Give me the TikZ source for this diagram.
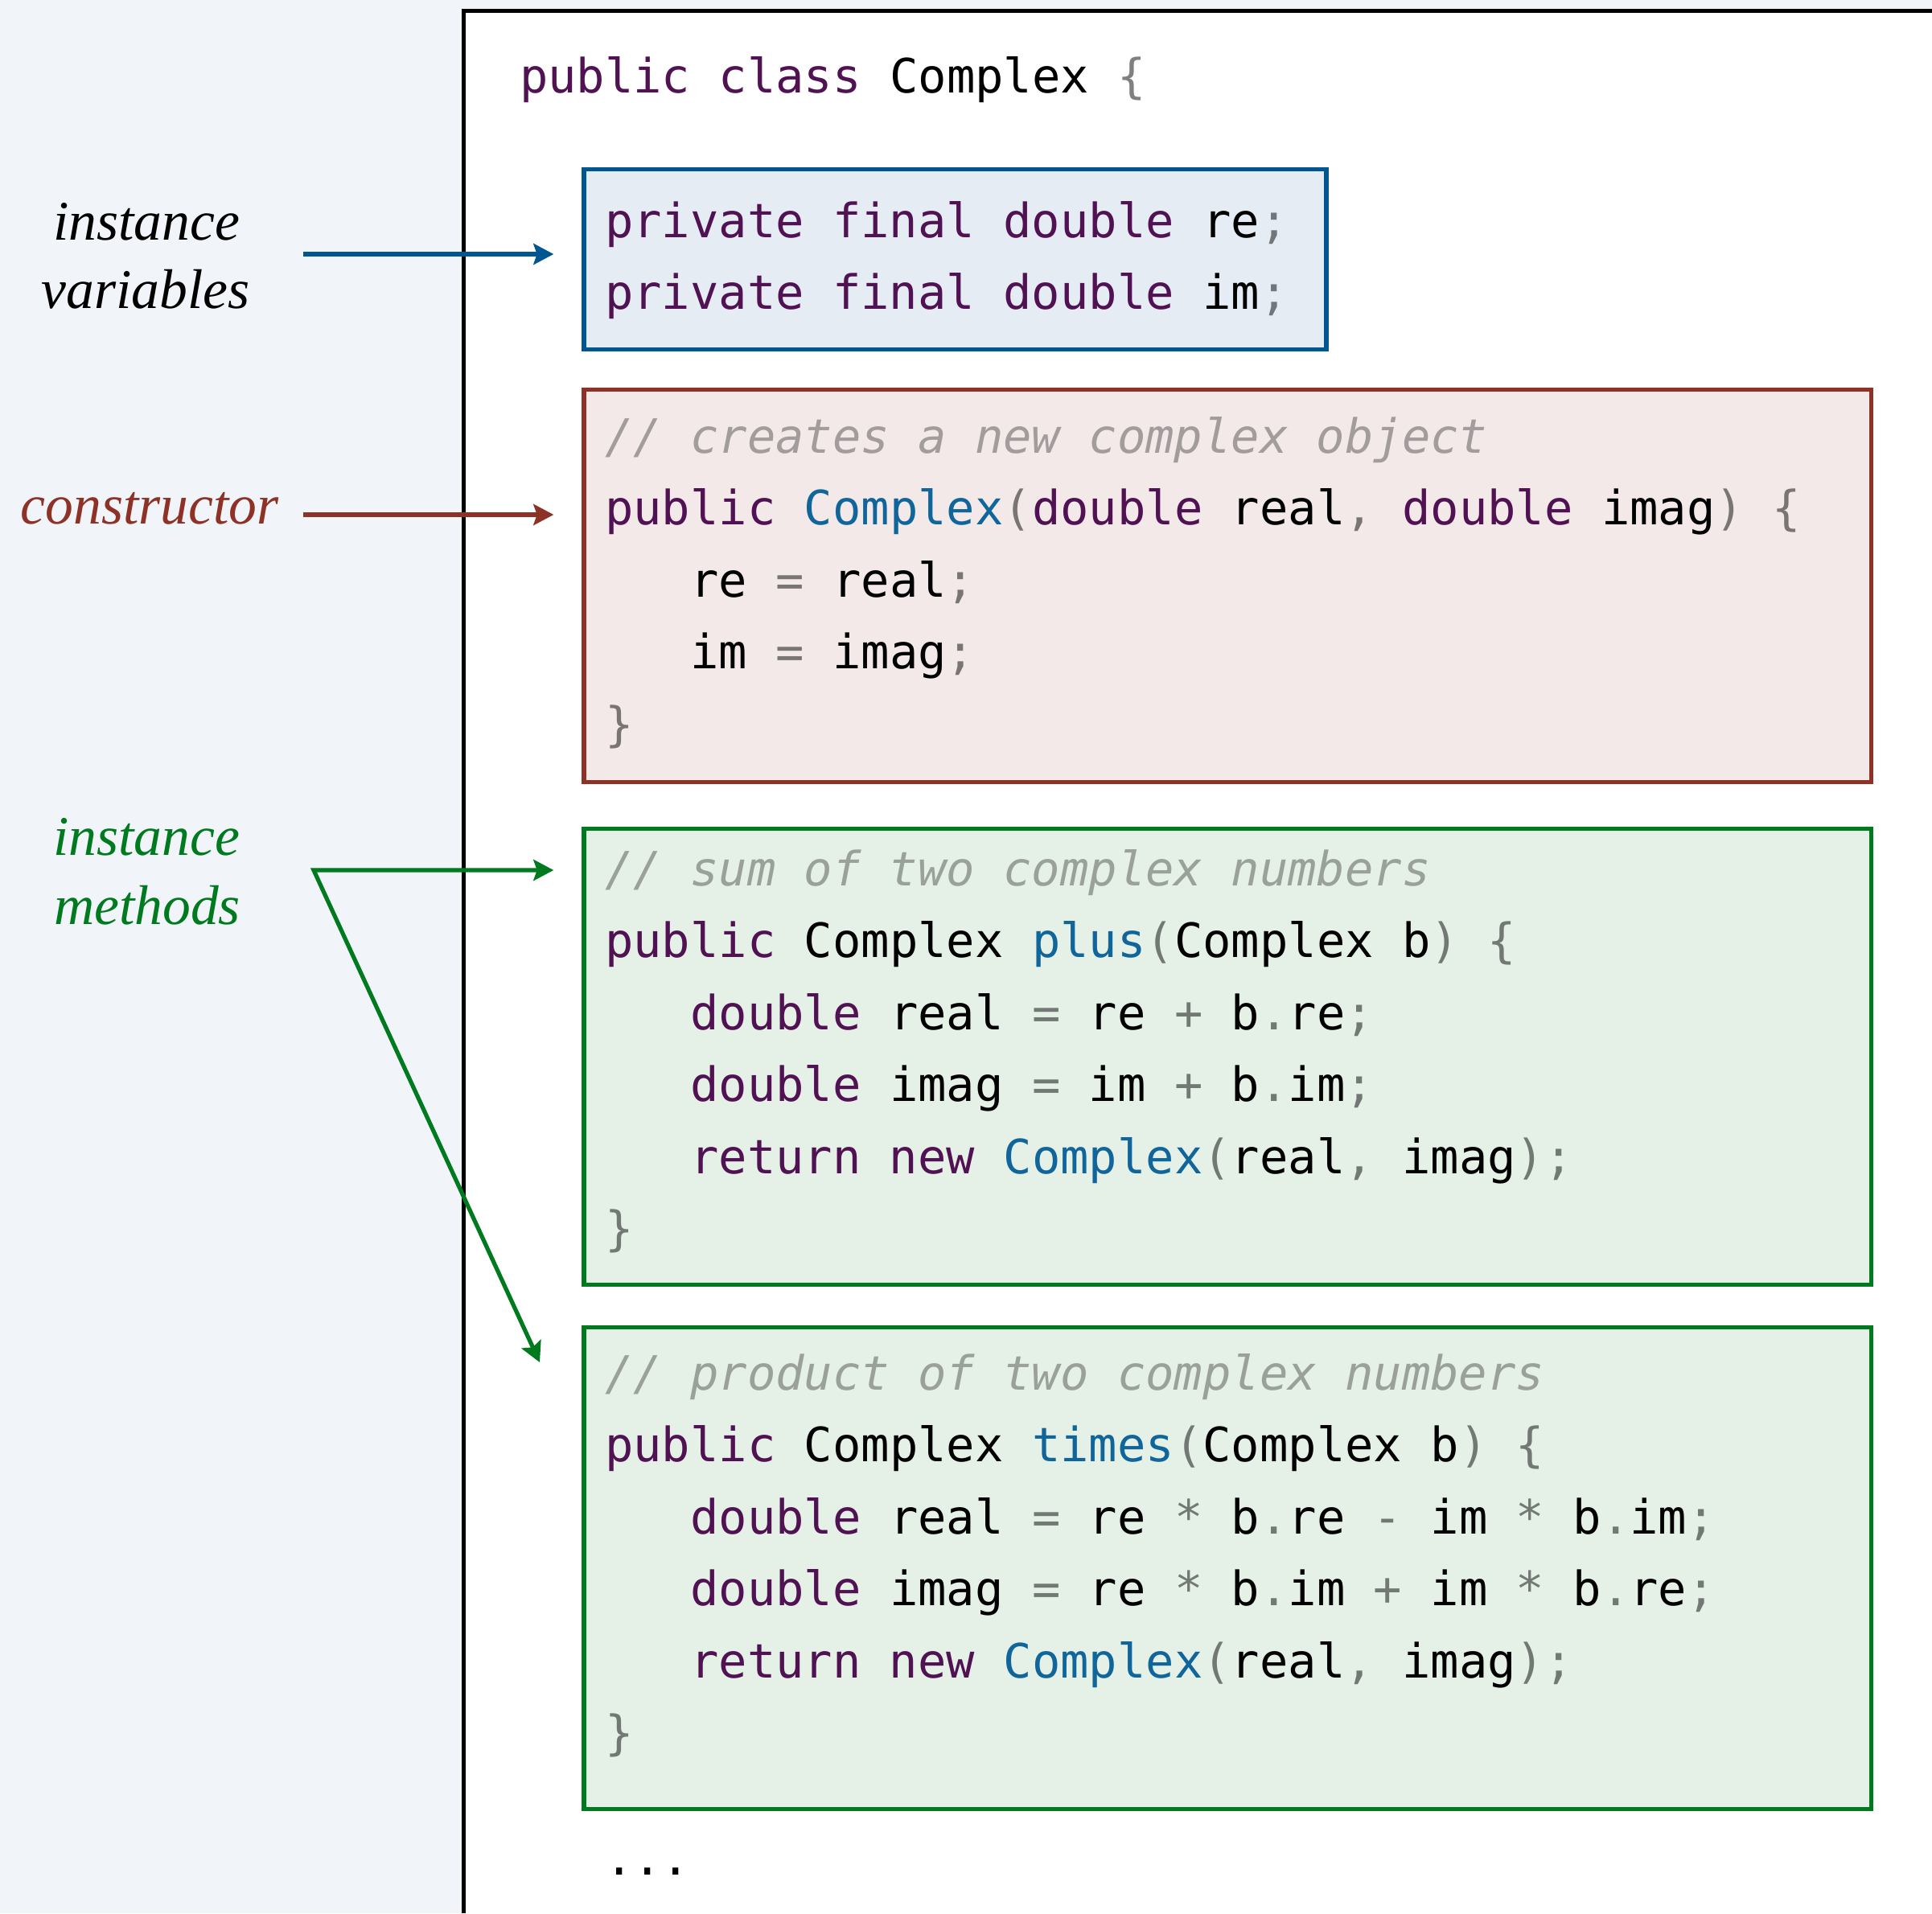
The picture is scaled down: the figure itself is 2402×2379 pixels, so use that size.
\documentclass[tikz,border=0pt]{standalone}
\usepackage{fontspec}
\setmainfont{Liberation Serif}
\newfontfamily\codefont{DejaVu Sans Mono}
\usetikzlibrary{arrows.meta}

\definecolor{pagebg}{RGB}{241,245,249}
\definecolor{kwcol}{RGB}{80,18,82}
\definecolor{fncol}{RGB}{16,102,154}
\definecolor{ivline}{RGB}{0,86,145}
\definecolor{ivfill}{RGB}{229,236,244}
\definecolor{ctline}{RGB}{142,49,38}
\definecolor{ctfill}{RGB}{243,233,233}
\definecolor{mtline}{RGB}{0,122,30}
\definecolor{mtfill}{RGB}{229,240,230}
\colorlet{pun}{black!50}
\colorlet{cmt}{black!33}

% syntax colouring helpers
\newcommand\Kw[1]{{\color{kwcol}#1}}
\newcommand\Fn[1]{{\color{fncol}#1}}
\newcommand\Pu[1]{{\color{pun}#1}}
\newcommand\Cm[1]{{\color{cmt}\itshape#1}}
\newcommand\Ind{\hphantom{xxx}}

\tikzset{
  code/.style={font=\codefont\fontsize{29.4pt}{35pt}\selectfont,
    anchor=base west, inner sep=0pt, outer sep=0pt, text=black},
  onIV/.style={code, execute at begin node={\colorlet{pun}{black!50!ivfill}\colorlet{cmt}{black!33!ivfill}}},
  onCT/.style={code, execute at begin node={\colorlet{pun}{black!50!ctfill}\colorlet{cmt}{black!33!ctfill}}},
  onMT/.style={code, execute at begin node={\colorlet{pun}{black!50!mtfill}\colorlet{cmt}{black!33!mtfill}}},
  codebox/.style={draw, line width=2.65pt, inner sep=0pt, anchor=north west},
  lbl/.style={font=\itshape\fontsize{34.8pt}{40pt}\selectfont, anchor=base, inner sep=0pt},
  tipshape/.style={Stealth[length=12.5pt,width=13pt,inset=2.2pt]},
  pointer/.style={line width=2.6pt, -{Stealth[length=12.5pt,width=13pt,inset=2.2pt]}},
}

\begin{document}
\begin{tikzpicture}[x=0.5pt, y=-0.5pt]
  \useasboundingbox (0,0) rectangle (2402,2379);
  \fill[pagebg] (0,0) rectangle (2402,2379);

  % class body panel
  \fill[white] (576.7,13.5) rectangle (2402,2379);
  \draw[line width=2.65pt] (576.7,2379) -- (576.7,13.5) -- (2402,13.5);

  \node[code] (head) at (646,115) {\Kw{public class} Complex \Pu{\{}};

  % instance variables
  \node[codebox, draw=ivline, fill=ivfill, minimum width=461.5pt, minimum height=112pt] (ivbox) at (723.3,208) {};
  \node[onIV] (iv1) at (752,295) {\Kw{private final double} re\Pu{;}};
  \node[onIV] (iv2) at (752,384) {\Kw{private final double} im\Pu{;}};

  % constructor
  \node[codebox, draw=ctline, fill=ctfill, minimum width=800.25pt, minimum height=244pt] (ctbox) at (723.3,481.5) {};
  \node[onCT] (ct1) at (752,563) {\Cm{// creates a new complex object}};
  \node[onCT] (ct2) at (752,652.5) {\Kw{public} \Fn{Complex}\Pu{(}\Kw{double} real\Pu{,} \Kw{double} imag\Pu{)} \Pu{\{}};
  \node[onCT] (ct3) at (752,742) {\Ind re \Pu{=} real\Pu{;}};
  \node[onCT] (ct4) at (752,831.5) {\Ind im \Pu{=} imag\Pu{;}};
  \node[onCT] (ct5) at (752,921) {\Pu{\}}};

  % plus()
  \node[codebox, draw=mtline, fill=mtfill, minimum width=800.25pt, minimum height=283.5pt] (mtbox) at (723.3,1028) {};
  \node[onMT] (pl1) at (752,1101) {\Cm{// sum of two complex numbers}};
  \node[onMT] (pl2) at (752,1190.5) {\Kw{public} Complex \Fn{plus}\Pu{(}Complex b\Pu{)} \Pu{\{}};
  \node[onMT] (pl3) at (752,1280) {\Ind\Kw{double} real \Pu{=} re \Pu{+} b\Pu{.}re\Pu{;}};
  \node[onMT] (pl4) at (752,1369.5) {\Ind\Kw{double} imag \Pu{=} im \Pu{+} b\Pu{.}im\Pu{;}};
  \node[onMT] (pl5) at (752,1459) {\Ind\Kw{return new} \Fn{Complex}\Pu{(}real\Pu{,} imag\Pu{);}};
  \node[onMT] (pl6) at (752,1548.5) {\Pu{\}}};

  % times()
  \node[codebox, draw=mtline, fill=mtfill, minimum width=800.25pt, minimum height=299.5pt] (tmbox) at (723.3,1648) {};
  \node[onMT] (tm1) at (752,1728) {\Cm{// product of two complex numbers}};
  \node[onMT] (tm2) at (752,1817.5) {\Kw{public} Complex \Fn{times}\Pu{(}Complex b\Pu{)} \Pu{\{}};
  \node[onMT] (tm3) at (752,1907) {\Ind\Kw{double} real \Pu{=} re \Pu{*} b\Pu{.}re \Pu{-} im \Pu{*} b\Pu{.}im\Pu{;}};
  \node[onMT] (tm4) at (752,1996.5) {\Ind\Kw{double} imag \Pu{=} re \Pu{*} b\Pu{.}im \Pu{+} im \Pu{*} b\Pu{.}re\Pu{;}};
  \node[onMT] (tm5) at (752,2086) {\Ind\Kw{return new} \Fn{Complex}\Pu{(}real\Pu{,} imag\Pu{);}};
  \node[onMT] (tm6) at (752,2175.5) {\Pu{\}}};

  \node[code] (more) at (752,2331) {...};

  % margin labels
  \node[lbl] (ivl1) at (182,298) {instance};
  \node[lbl] (ivl2) at (181,383) {variables};
  \node[lbl, text=ctline] (ctl) at (186,651) {constructor};
  \node[lbl, text=mtline] (mtl1) at (182,1063) {instance};
  \node[lbl, text=mtline] (mtl2) at (183,1149) {methods};

  % pointers
  \coordinate (ivfrom) at (377,316);
  \coordinate (ctfrom) at (377,640);
  \coordinate (mtfrom) at (390,1082);
  \coordinate (mttip) at (671,1694);
  \draw[pointer, ivline, shorten >=17.5pt] (ivfrom) -- (ivfrom -| ivbox.west);
  \draw[pointer, ctline, shorten >=17.5pt] (ctfrom) -- (ctfrom -| ctbox.west);
  \draw[line width=2.6pt, mtline, {Stealth[length=12.5pt,width=13pt,inset=2.2pt]}-{Stealth[length=12.5pt,width=13pt,inset=2.2pt]}, shorten >=17.5pt]
    (mttip) -- (mtfrom) -- (mtfrom -| mtbox.west);
\end{tikzpicture}
\end{document}
